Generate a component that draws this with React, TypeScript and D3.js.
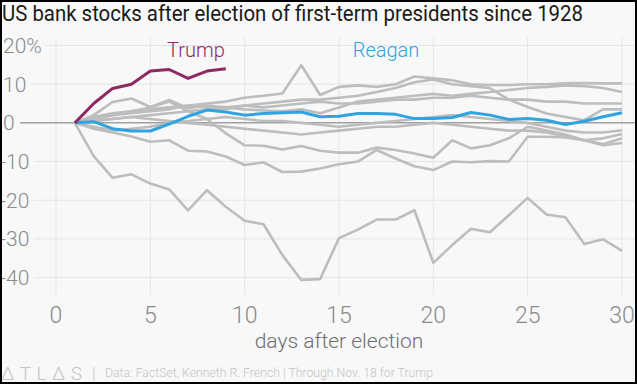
import React from "react";
import * as d3 from "d3";

// cumulative % change of bank stocks, days 1..30 after election
const days = d3.range(1, 31);
const trump = [0, 5.0, 8.9, 10.0, 13.4, 13.8, 11.5, 13.4, 14.0];
const reagan = [0, 0.3, -1.5, -2.1, -2.1, -0.3, 1.7, 3.3, 2.8, 2.0, 2.4, 2.6, 2.8, 1.6, 1.7, 2.4, 2.4, 2.2, 1.1, 1.1, 1.4, 2.7, 2.0, 0.9, 1.1, 0.7, -0.4, 0.4, 1.6, 2.6];
const others = [
  [0, 1, 2, 2.5, 3, 3.5, 4.5, 5, 5.5, 6.5, 7, 7.6, 14.9, 7.2, 9.3, 9.7, 9.3, 10, 12, 11.5, 11, 10, 9.8, 9.8, 10, 10, 10.2, 10.3, 10.2, 10.2],
  [0, 2, 5.4, 6.3, 4.1, 5.9, 3.8, 4.5, 4, 3.5, 3.2, 3, 3.5, 2.5, 4, 5.5, 6, 6.5, 7, 7.5, 7, 7.5, 8, 8.5, 9, 9.3, 9.7, 9.5, 9, 8],
  [0, 1.5, 2.5, 3, 3.5, 4, 4.5, 4, 3.5, 4.5, 5, 5.5, 6, 6, 6.5, 7, 8, 9, 10.5, 11.2, 10, 9.5, 9, 6, 4.1, 2.4, 1.5, 0.7, 3.5, 3.5],
  [0, 0.5, 1, 1.5, 2, 2.5, 3, 3.5, 4, 4.5, 4, 4.5, 5, 5.5, 5, 5, 5.5, 6, 6, 6.5, 6.5, 7, 6.5, 6, 6, 5.5, 5.5, 5, 5, 5],
  [0, -1, -2, -1.5, -1, 0, 0.5, 1, 1.5, 1, 0.5, 0.5, 0, -0.5, -1, -0.5, 0, 0.5, 1, 1.5, 2, 1.5, 1, 0.5, 0, -1, -2, -2.5, -2.5, -1.9],
  [0, 0.5, 1, 1.5, 1, 0.5, 0, -0.5, -1, -1.5, -2, -2.5, -3, -2.5, -2, -1.5, -1, -1, -0.5, 0, -0.5, -1, -1.5, -2, -2, -2.5, -3.5, -4.5, -4, -2.9],
  [0, 1, 2, 3, 4, 5.5, 3, 1, -2.7, -5.8, -5.9, -6.9, -6.0, -7.2, -7.7, -7.7, -6.4, -7.0, -7.9, -9.0, -4.5, -6.6, -5.8, -4.0, -1.0, -2, -3, -4.5, -5.5, -4.0],
  [0, -1.5, -2.5, -3.5, -4.9, -4.5, -7.2, -7.4, -8.7, -10.9, -10.2, -12.7, -12.6, -11.8, -10.7, -10.0, -7.0, -9.2, -11.2, -12.2, -10.0, -10.2, -9.9, -10.0, -3.6, -3.6, -3.8, -4.5, -5.8, -5.2],
  [0, -8.6, -14.2, -13.3, -15.7, -17.2, -22.6, -17.4, -21.7, -25.3, -26.2, -34.2, -40.6, -40.4, -29.8, -27.6, -25.0, -25.0, -22.6, -36.2, -31.6, -27.4, -28.3, -23.9, -19.4, -23.7, -24.4, -31.3, -30.1, -33.1],
];
const xTicks = [0, 5, 10, 15, 20, 25, 30];
const yTicks = [20, 10, 0, -10, -20, -30, -40];

const W = 637;
const H = 384;
const BG = "#f8f8f8";
const FONT = "Roboto, 'Noto Sans', sans-serif";

export default function App() {
  const x = d3.scaleLinear().domain([0, 30]).range([56, 622]);
  const y = d3.scaleLinear().domain([-44.5, 22.2]).range([295, 37]);
  const line = d3
    .line<number>()
    .x((_, i) => x(days[i]))
    .y(d => y(d));

  return (
    <svg
      width={W}
      height={H}
      style={{ position: "absolute", left: 0, top: 0, fontFamily: FONT }}
    >
      <rect x={0} y={0} width={W} height={H} fill={BG} />

      {/* grid */}
      {xTicks.map(t => (
        <line key={"vx" + t} x1={x(t)} x2={x(t)} y1={37} y2={295} stroke="#e5e5e5" />
      ))}
      {yTicks.filter(t => t !== 0).map(t => (
        <line key={"hy" + t} x1={20} x2={W} y1={y(t)} y2={y(t)} stroke="#e5e5e5" />
      ))}
      <line x1={20} x2={W} y1={y(0)} y2={y(0)} stroke="#a0a0a0" strokeWidth={1.5} />

      {/* y labels */}
      {yTicks.map((t, i) => (
        <text
          key={"yl" + t}
          x={t < 0 ? 0 : 3}
          y={y(t)}
          dy="0.35em"
          fontSize={21}
          fontWeight={300}
          fill="#8a8a8a"
          stroke={BG}
          strokeWidth={11}
          strokeLinejoin="round"
          paintOrder="stroke"
        >
          {i === 0 ? `${t}%` : t}
        </text>
      ))}

      {/* x labels */}
      {xTicks.map(t => (
        <text
          key={"xl" + t}
          x={x(t)}
          y={323}
          textAnchor="middle"
          fontSize={23}
          fontWeight={300}
          fill="#8a8a8a"
        >
          {t}
        </text>
      ))}
      <text x={x(15)} y={348} textAnchor="middle" fontSize={21} fontWeight={300} fill="#6f6f6f">
        days after election
      </text>

      {/* series */}
      {others.map((s, i) => (
        <path key={"g" + i} d={line(s) ?? ""} fill="none" stroke="#bdbdbd" strokeWidth={2.6} strokeLinejoin="round" />
      ))}
      <path d={line(reagan) ?? ""} fill="none" stroke="#2fa4e0" strokeWidth={3} strokeLinejoin="round" />
      <path d={line(trump) ?? ""} fill="none" stroke="#8e2a63" strokeWidth={3} strokeLinejoin="round" />

      <text x={196} y={57} textAnchor="middle" fontSize={20} fontWeight={300} fill="#8e2a63">
        Trump
      </text>
      <text x={386} y={57} textAnchor="middle" fontSize={20} fontWeight={300} fill="#2fa4e0">
        Reagan
      </text>

      {/* title */}
      <text x={2} y={21} fontSize={22} fill="#1a1a1a" textLength={581} lengthAdjust="spacingAndGlyphs">
        US bank stocks after election of first-term presidents since 1928
      </text>

      {/* footer */}
      <text x={1} y={380} fontSize={19} fontWeight={300} fill="#c4c4c4" letterSpacing={5.5}>
        ΔTLΔS
      </text>
      <text x={92} y={379} fontSize={16} fontWeight={300} fill="#c4c4c4">|</text>
      <text x={105} y={377} fontSize={13} fontWeight={300} fill="#c4c4c4" textLength={328} lengthAdjust="spacingAndGlyphs">
        Data: FactSet, Kenneth R. French | Through Nov. 18 for Trump
      </text>

      <rect x={1} y={1} width={W - 2} height={H - 2} fill="none" stroke="#000" strokeWidth={2} />
    </svg>
  );
}
